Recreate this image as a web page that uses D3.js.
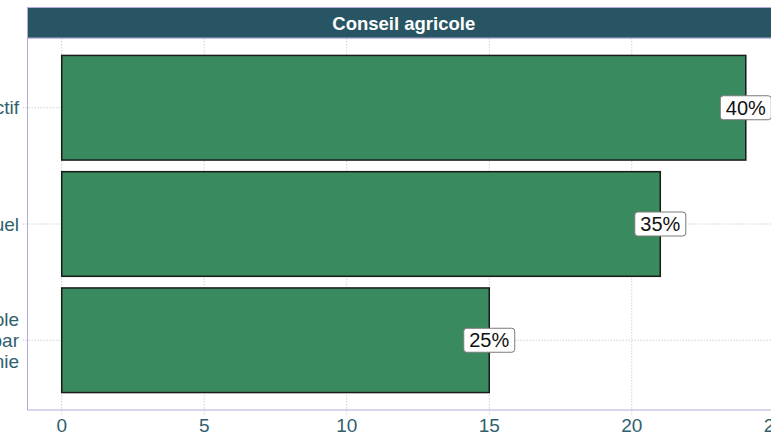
<!DOCTYPE html>
<html>
<head>
<meta charset="utf-8">
<script src="https://cdn.jsdelivr.net/npm/d3@7"></script>
<style>
  body { margin: 0; background: #fff; overflow: hidden; }
  svg { display: block; font-family: "Liberation Sans", Arial, sans-serif; }
</style>
</head>
<body>
<div id="chart"></div>
<script>
const categories = ["Conseil collectif", "Conseil individuel", "Démonstration agricole\nréalisée par\nla compagnie"];
const counts = [24, 21, 15];
const shares = ["40%", "35%", "25%"];
const xTicks = [0, 5, 10, 15, 20, 25];
const panelTitle = "Conseil agricole";

const width = 771, height = 436;
const panel = { left: 27.5, right: 780, top: 38, bottom: 410 };
const axisColor = "#2f5f6e";

const svg = d3.select("#chart").append("svg")
    .attr("width", width)
    .attr("height", height);

const x = d3.scaleLinear()
    .domain([-1.2, 25.2])
    .range([panel.left, panel.right]);

const y = d3.scaleBand()
    .domain(categories)
    .range([panel.top, panel.bottom])
    .paddingInner(0.1)
    .paddingOuter(0.15);

// grid
const grid = svg.append("g");
grid.selectAll(".vgrid")
    .data(xTicks)
    .enter().append("line")
    .attr("x1", d => x(d)).attr("x2", d => x(d))
    .attr("y1", panel.top).attr("y2", panel.bottom + 5)
    .attr("stroke", "#bdbdbd")
    .attr("stroke-width", 0.7)
    .attr("stroke-dasharray", "1.5,1.5");
grid.selectAll(".hgrid")
    .data(categories)
    .enter().append("line")
    .attr("x1", panel.left - 5).attr("x2", panel.right)
    .attr("y1", d => y(d) + y.bandwidth() / 2)
    .attr("y2", d => y(d) + y.bandwidth() / 2)
    .attr("stroke", "#bdbdbd")
    .attr("stroke-width", 0.7)
    .attr("stroke-dasharray", "1.5,1.5");

// bars
svg.append("g").selectAll("rect")
    .data(categories)
    .enter().append("rect")
    .attr("x", x(0))
    .attr("y", d => y(d))
    .attr("width", (d, i) => x(counts[i]) - x(0))
    .attr("height", y.bandwidth())
    .attr("fill", "#3a8a5f")
    .attr("stroke", "#1a1a1a")
    .attr("stroke-width", 1.5);

// panel border
svg.append("rect")
    .attr("x", panel.left).attr("y", panel.top)
    .attr("width", panel.right - panel.left)
    .attr("height", panel.bottom - panel.top)
    .attr("fill", "none")
    .attr("stroke", "#b3acd6")
    .attr("stroke-width", 1);

// strip
svg.append("rect")
    .attr("x", panel.left).attr("y", 7.5)
    .attr("width", panel.right - panel.left)
    .attr("height", panel.top - 7.5)
    .attr("fill", "#285563")
    .attr("stroke", "#b3acd6")
    .attr("stroke-width", 1);
svg.append("text")
    .attr("x", (panel.left + panel.right) / 2)
    .attr("y", 23)
    .attr("text-anchor", "middle")
    .attr("dominant-baseline", "central")
    .attr("fill", "#fff")
    .attr("font-weight", "bold")
    .attr("font-size", 18.5)
    .text(panelTitle);

// value labels
const labels = svg.append("g").selectAll("g")
    .data(categories)
    .enter().append("g")
    .attr("transform", (d, i) => `translate(${x(counts[i])},${y(d) + y.bandwidth() / 2})`);
labels.append("rect")
    .attr("x", -25.5).attr("y", -12)
    .attr("width", 51).attr("height", 24)
    .attr("rx", 3)
    .attr("fill", "#fff")
    .attr("stroke", "#7a7a7a")
    .attr("stroke-width", 1);
labels.append("text")
    .attr("text-anchor", "middle")
    .attr("dominant-baseline", "central")
    .attr("font-size", 20)
    .attr("fill", "#111")
    .text((d, i) => shares[i]);

// x axis labels
svg.append("g").selectAll("text")
    .data(xTicks)
    .enter().append("text")
    .attr("x", d => x(d))
    .attr("y", 425)
    .attr("text-anchor", "middle")
    .attr("dominant-baseline", "central")
    .attr("font-size", 19)
    .attr("fill", axisColor)
    .text(d => d);

// y axis labels
const yLabels = svg.append("g").selectAll("text")
    .data(categories)
    .enter().append("text")
    .attr("text-anchor", "end")
    .attr("font-size", 19)
    .attr("fill", axisColor);
yLabels.each(function(d) {
    const lines = d.split("\n");
    const cy = y(d) + y.bandwidth() / 2;
    const lh = 21;
    d3.select(this).selectAll("tspan")
        .data(lines)
        .enter().append("tspan")
        .attr("x", 19)
        .attr("y", (l, j) => cy + (j - (lines.length - 1) / 2) * lh)
        .attr("dominant-baseline", "central")
        .text(l => l);
});
</script>
</body>
</html>
